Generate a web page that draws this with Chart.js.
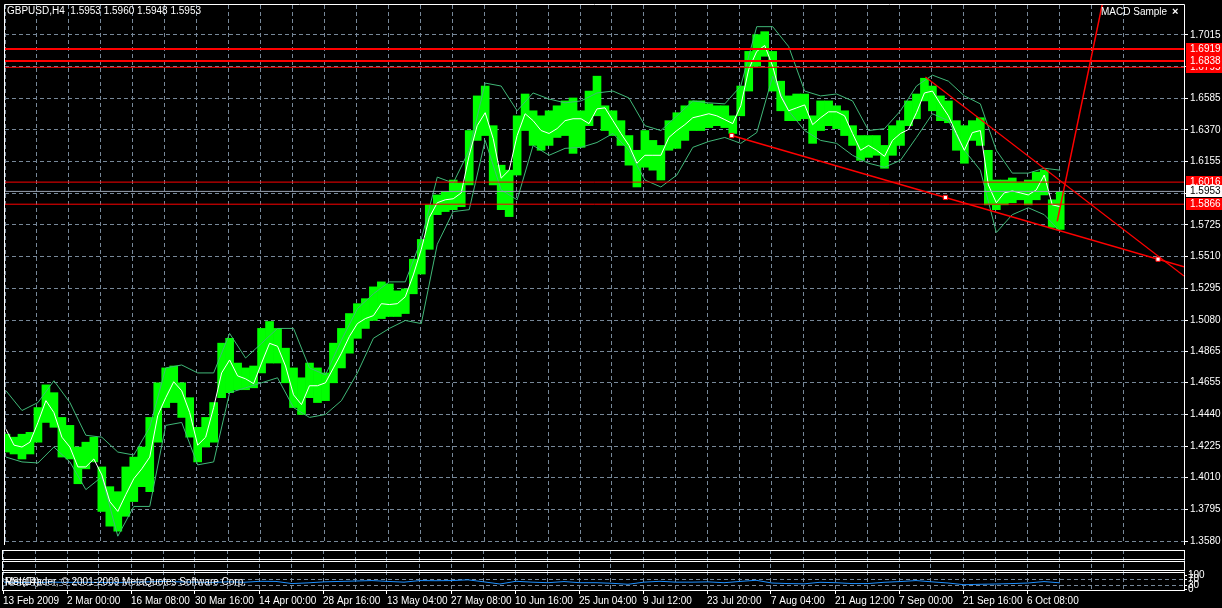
<!DOCTYPE html>
<html>
<head>
<meta charset="utf-8">
<script src="https://cdn.jsdelivr.net/npm/chart.js@4.4.1/dist/chart.umd.min.js"></script>
<style>
html, body { margin: 0; padding: 0; background: #000; }
#wrap { position: relative; width: 1222px; height: 608px; overflow: hidden; background: #000; }
canvas { position: absolute; left: 0; }
#mainChart { top: 0; }
#subChart { top: 549px; }
</style>
</head>
<body>
<div id="wrap">
<canvas id="mainChart" width="1222" height="549"></canvas>
<canvas id="subChart" width="1222" height="59"></canvas>
</div>
<script>
// GBPUSD H4 - bars grouped every 8 time units, bands / RSI every 16
const barStep = 8;
const bandStep = 16;

const barHigh = [
  1.4305, 1.4285, 1.4305, 1.4318, 1.4486, 1.4640, 1.4587, 1.4419, 1.4365, 1.4218,
  1.4251, 1.4285, 1.4083, 1.3949, 1.3915, 1.4083, 1.4150, 1.4218, 1.4419, 1.4654,
  1.4755, 1.4768, 1.4654, 1.4553, 1.4352, 1.4419, 1.4520, 1.4923, 1.4956, 1.4788,
  1.4755, 1.4768, 1.5023, 1.5070, 1.5023, 1.4889, 1.4755, 1.4688, 1.4788, 1.4755,
  1.4721, 1.4923, 1.5023, 1.5124, 1.5191, 1.5225, 1.5305, 1.5339, 1.5325, 1.5278,
  1.5292, 1.5493, 1.5627, 1.5862, 1.5929, 1.5950, 1.6030, 1.6010, 1.6366, 1.6601,
  1.6668, 1.6399, 1.6131, 1.6097, 1.6466, 1.6614, 1.6500, 1.6466, 1.6500, 1.6534,
  1.6567, 1.6587, 1.6500, 1.6634, 1.6735, 1.6534, 1.6500, 1.6433, 1.6332, 1.6232,
  1.6366, 1.6299, 1.6265, 1.6433, 1.6487, 1.6534, 1.6567, 1.6567, 1.6547, 1.6534,
  1.6534, 1.6466, 1.6668, 1.6903, 1.7017, 1.7037, 1.6903, 1.6701, 1.6601, 1.6614,
  1.6614, 1.6466, 1.6567, 1.6567, 1.6534, 1.6500, 1.6399, 1.6332, 1.6332, 1.6332,
  1.6265, 1.6399, 1.6433, 1.6567, 1.6614, 1.6721, 1.6668, 1.6601, 1.6567, 1.6433,
  1.6399, 1.6433, 1.6453, 1.6232, 1.6030, 1.6030, 1.6044, 1.6017, 1.6030, 1.6084,
  1.6097, 1.5896, 1.5950
];
const barLow = [
  1.4184, 1.4171, 1.4137, 1.4171, 1.4251, 1.4385, 1.4352, 1.4150, 1.4137, 1.3969,
  1.4070, 1.4117, 1.3781, 1.3681, 1.3647, 1.3748, 1.3848, 1.3949, 1.3915, 1.4251,
  1.4486, 1.4520, 1.4419, 1.4285, 1.4117, 1.4218, 1.4251, 1.4553, 1.4587, 1.4607,
  1.4607, 1.4620, 1.4721, 1.4788, 1.4788, 1.4654, 1.4486, 1.4439, 1.4553, 1.4520,
  1.4533, 1.4654, 1.4755, 1.4855, 1.4956, 1.5023, 1.5077, 1.5090, 1.5104, 1.5104,
  1.5124, 1.5258, 1.5392, 1.5560, 1.5795, 1.5816, 1.5829, 1.5849, 1.5997, 1.6299,
  1.6332, 1.5997, 1.5829, 1.5782, 1.6064, 1.6366, 1.6265, 1.6232, 1.6265, 1.6319,
  1.6332, 1.6211, 1.6252, 1.6399, 1.6466, 1.6366, 1.6332, 1.6265, 1.6131, 1.5983,
  1.6117, 1.6097, 1.6030, 1.6232, 1.6245, 1.6299, 1.6366, 1.6366, 1.6386, 1.6399,
  1.6386, 1.6346, 1.6466, 1.6634, 1.6802, 1.6870, 1.6634, 1.6500, 1.6433, 1.6433,
  1.6446, 1.6279, 1.6366, 1.6399, 1.6379, 1.6332, 1.6265, 1.6164, 1.6184, 1.6198,
  1.6110, 1.6198, 1.6265, 1.6399, 1.6446, 1.6567, 1.6500, 1.6433, 1.6419, 1.6232,
  1.6144, 1.6299, 1.6265, 1.5862, 1.5829, 1.5862, 1.5876, 1.5896, 1.5862, 1.5896,
  1.5929, 1.5708, 1.5695
];
const maLine = [
  1.4339, 1.4231, 1.4218, 1.4251, 1.4385, 1.4533, 1.4452, 1.4285, 1.4218, 1.4083,
  1.4083, 1.4137, 1.4029, 1.3848, 1.3781, 1.3895, 1.4003, 1.4070, 1.4150, 1.4432,
  1.4553, 1.4661, 1.4600, 1.4452, 1.4231, 1.4285, 1.4486, 1.4721, 1.4809, 1.4701,
  1.4681, 1.4648, 1.4788, 1.4922, 1.4902, 1.4768, 1.4573, 1.4506, 1.4634, 1.4634,
  1.4654, 1.4755, 1.4855, 1.4969, 1.5056, 1.5090, 1.5110, 1.5191, 1.5185, 1.5191,
  1.5238, 1.5386, 1.5560, 1.5775, 1.5876, 1.5896, 1.5903, 1.5943, 1.6198, 1.6399,
  1.6487, 1.6312, 1.6043, 1.6097, 1.6332, 1.6480, 1.6433, 1.6366, 1.6346, 1.6379,
  1.6433, 1.6446, 1.6446, 1.6413, 1.6513, 1.6520, 1.6433, 1.6346, 1.6265, 1.6144,
  1.6198, 1.6198, 1.6198, 1.6319, 1.6366, 1.6406, 1.6453, 1.6466, 1.6480, 1.6466,
  1.6440, 1.6413, 1.6534, 1.6782, 1.6903, 1.6943, 1.6802, 1.6601, 1.6500, 1.6520,
  1.6540, 1.6406, 1.6453, 1.6493, 1.6493, 1.6466, 1.6346, 1.6232, 1.6265, 1.6232,
  1.6191, 1.6299, 1.6346, 1.6373, 1.6487, 1.6621, 1.6634, 1.6547, 1.6466, 1.6346,
  1.6232, 1.6352, 1.6366, 1.5997, 1.5876, 1.5943, 1.5956, 1.5943, 1.5929, 1.5963,
  1.6064, 1.5862, 1.5849
];
const bandUpper = [
  1.4600, 1.4466, 1.4520, 1.4668, 1.4520, 1.4298, 1.4285, 1.4184, 1.4164, 1.4352,
  1.4755, 1.4775, 1.4721, 1.4721, 1.4989, 1.4822, 1.4922, 1.5023, 1.5023, 1.4755,
  1.4708, 1.4943, 1.5157, 1.5258, 1.5339, 1.5339, 1.5627, 1.6050, 1.6010, 1.6232,
  1.6688, 1.6668, 1.6500, 1.6621, 1.6580, 1.6554, 1.6567, 1.6621, 1.6634, 1.6587,
  1.6399, 1.6366, 1.6466, 1.6567, 1.6554, 1.6547, 1.6668, 1.7071, 1.7071, 1.6936,
  1.6634, 1.6601, 1.6614, 1.6567, 1.6366, 1.6379, 1.6500, 1.6668, 1.6742, 1.6701,
  1.6601, 1.6547, 1.6232, 1.6077, 1.6077, 1.6110, 1.6097
];
const bandLower = [
  1.4150, 1.4117, 1.4110, 1.4218, 1.4117, 1.3929, 1.4016, 1.3613, 1.3815, 1.3815,
  1.4365, 1.4385, 1.4097, 1.4117, 1.4587, 1.4620, 1.4654, 1.4688, 1.4486, 1.4419,
  1.4439, 1.4533, 1.4721, 1.4956, 1.5023, 1.5077, 1.5056, 1.5594, 1.5816, 1.5829,
  1.6299, 1.5963, 1.5896, 1.6265, 1.6198, 1.6245, 1.6252, 1.6285, 1.6346, 1.6232,
  1.6030, 1.5983, 1.6064, 1.6252, 1.6292, 1.6319, 1.6279, 1.6352, 1.6735, 1.6500,
  1.6366, 1.6299, 1.6279, 1.6198, 1.6144, 1.6117, 1.6164, 1.6319, 1.6480, 1.6433,
  1.6232, 1.6097, 1.5674, 1.5795, 1.5842, 1.5795, 1.5681
];
const rsiValues = [
  50, 48, 47, 50, 48, 49, 48, 46, 50, 52,
  55, 52, 50, 48, 52, 49, 56, 55, 40, 45,
  52, 55, 58, 61, 55, 50, 61, 60, 61, 66,
  52, 37, 56, 50, 46, 54, 46, 46, 42, 35,
  50, 56, 50, 50, 52, 46, 55, 63, 44, 40,
  38, 49, 46, 40, 40, 49, 54, 61, 52, 44,
  32, 35, 37, 40, 44, 54, 45
];

const dateLabels = ['13 Feb 2009', '2 Mar 00:00', '16 Mar 08:00', '30 Mar 16:00', '14 Apr 00:00',
  '28 Apr 16:00', '13 May 04:00', '27 May 08:00', '10 Jun 16:00', '25 Jun 04:00', '9 Jul 12:00',
  '23 Jul 20:00', '7 Aug 04:00', '21 Aug 12:00', '7 Sep 00:00', '21 Sep 16:00', '6 Oct 08:00'];
const priceTicks = [1.7015, 1.6800, 1.6585, 1.6370, 1.6155, 1.5940, 1.5725, 1.5510, 1.5295,
  1.5080, 1.4865, 1.4655, 1.4440, 1.4225, 1.4010, 1.3795, 1.3580];
const rsiTicks = [0, 30, 70, 100];

const levelsBold = [1.6919, 1.6838];
const levelsThin = [1.6795, 1.6016, 1.5866];
const bidPrice = 1.5953;
const quote = [1.5953, 1.5960, 1.5948, 1.5953];

const trendLower = [[728, 1.6332], [1181, 1.5442]];
const trendUpper = [[922, 1.6729], [1181, 1.5379]];
const trendBreak = [[1054, 1.5749], [1109, 1.7545]];
const trendAnchors = [[728, 1.6332], [942, 1.5912], [1155, 1.5493]];

const xMax = 1181;
const gridColor = '#778899';
const fontFamily = '"Liberation Sans", Arial, sans-serif';
Chart.defaults.font.family = fontFamily;
Chart.defaults.font.size = 10;
Chart.defaults.color = '#ffffff';

const toPts = (arr, step) => arr.map((v, i) => ({ x: 1 + step * i, y: v }));
const pairPts = arr => arr.map(p => ({ x: p[0], y: p[1] }));
const flat = lvl => [{ x: 0, y: lvl }, { x: xMax, y: lvl }];
const sizeFix = (w, h) => s => {
  if (w !== null) s.width = w;
  if (h !== null) s.height = h;
  s.paddingTop = 0; s.paddingBottom = 0; s.paddingLeft = 0; s.paddingRight = 0;
};
const lineSet = (data, color, width, extra) => Object.assign({
  type: 'line', data: data, borderColor: color, borderWidth: width,
  pointRadius: 0, tension: 0, fill: false
}, extra || {});

const mainDecor = {
  id: 'mainDecor',
  afterDraw(chart) {
    const { ctx, chartArea: a, scales: { y } } = chart;
    ctx.save();
    ctx.strokeStyle = '#ffffff';
    ctx.lineWidth = 1;
    ctx.beginPath();
    ctx.moveTo(a.left - 0.5, a.bottom + 1);
    ctx.lineTo(a.left - 0.5, a.top - 0.5);
    ctx.lineTo(a.right + 0.5, a.top - 0.5);
    ctx.lineTo(a.right + 0.5, a.bottom + 1);
    ctx.stroke();

    ctx.font = '10px ' + fontFamily;
    ctx.textBaseline = 'middle';
    ctx.textAlign = 'left';
    const box = (price, fill, color) => {
      const py = Math.round(y.getPixelForValue(price));
      ctx.fillStyle = fill;
      ctx.fillRect(a.right + 2, py - 6, 36, 12);
      ctx.fillStyle = color;
      ctx.fillText(price.toFixed(4), a.right + 6, py);
    };
    levelsThin.forEach(l => box(l, '#ff0000', '#ffffff'));
    levelsBold.forEach(l => box(l, '#ff0000', '#ffffff'));
    box(bidPrice, '#ffffff', '#000000');

    ctx.fillStyle = '#ffffff';
    ctx.fillText('GBPUSD,H4  ' + quote.map(q => q.toFixed(4)).join(' '), 7, 11);
    ctx.fillText('MACD Sample', 1101, 12);
    ctx.font = 'bold 11px ' + fontFamily;
    ctx.fillText('\u00d7', 1172, 12);
    ctx.restore();
  }
};

new Chart(document.getElementById('mainChart'), {
  type: 'bar',
  data: {
    datasets: [
      lineSet(pairPts(trendAnchors), '#ff0000', 1, {
        showLine: false, pointRadius: 3, pointStyle: 'rect',
        pointBackgroundColor: '#ffffff', pointBorderColor: '#ff0000', pointBorderWidth: 1
      }),
      lineSet(pairPts(trendLower), '#ff0000', 1.5),
      lineSet(pairPts(trendUpper), '#ff0000', 1.2),
      lineSet(pairPts(trendBreak), '#ff0000', 1.5),
      ...levelsBold.map(l => lineSet(flat(l), '#ff0000', 2)),
      ...levelsThin.map(l => lineSet(flat(l), '#ff0000', 1)),
      lineSet(flat(bidPrice), '#9aa4b4', 1),
      lineSet(toPts(maLine, barStep), '#ffffff', 1),
      lineSet(toPts(bandUpper, bandStep), '#40b878', 1),
      lineSet(toPts(bandLower, bandStep), '#40b878', 1),
      {
        type: 'bar',
        data: barHigh.map((h, i) => ({ x: 1 + barStep * i, y: [barLow[i], h] })),
        backgroundColor: '#00ff00',
        borderWidth: 0,
        barThickness: 8
      }
    ]
  },
  options: {
    responsive: false,
    animation: false,
    events: [],
    layout: { padding: { left: 3, top: 3, right: 0, bottom: 1 } },
    plugins: { legend: { display: false }, tooltip: { enabled: false } },
    scales: {
      x: {
        type: 'linear', min: 0, max: xMax, offset: false,
        ticks: { display: false, stepSize: 32 },
        grid: { color: gridColor, drawTicks: false, offset: false },
        border: { display: false, dash: [4, 3] },
        afterFit: sizeFix(null, 0)
      },
      y: {
        position: 'right', min: 1.3560, max: 1.7218,
        afterBuildTicks: s => { s.ticks = priceTicks.map(v => ({ value: v })); },
        ticks: { callback: v => v.toFixed(4), padding: 2, autoSkip: false, color: '#ffffff' },
        grid: { color: gridColor, tickColor: '#ffffff', tickLength: 4 },
        border: { display: false, dash: [4, 3] },
        afterFit: sizeFix(38, null)
      }
    }
  },
  plugins: [mainDecor]
});

const subDecor = {
  id: 'subDecor',
  afterDraw(chart) {
    const { ctx, chartArea: a, scales } = chart;
    ctx.save();
    ctx.strokeStyle = '#ffffff';
    ctx.lineWidth = 1;
    ['w1', 'w2', 'rsi'].forEach((id, i) => {
      const s = scales[id];
      const top = s.top + (i === 0 ? 0.5 : 1.5);
      ctx.strokeRect(a.left - 0.5, top, a.right - a.left + 1, s.bottom - 0.5 - top);
    });
    ctx.fillStyle = '#ffffff';
    ctx.font = '10px ' + fontFamily;
    ctx.textBaseline = 'middle';
    ctx.fillText('MetaTrader, \u00a9 2001-2009 MetaQuotes Software Corp.', 5, scales.rsi.top + 11);
    ctx.fillText('RSI(14)', 5, scales.rsi.top + 11);
    ctx.restore();
  }
};

const emptyPane = weight => ({
  position: 'right', stack: 'sub', stackWeight: weight,
  ticks: { display: false }, grid: { display: false }, border: { display: false },
  afterFit: sizeFix(38, null)
});

new Chart(document.getElementById('subChart'), {
  type: 'line',
  data: {
    datasets: [
      lineSet(toPts(rsiValues, bandStep), '#1e90ff', 1, { yAxisID: 'rsi' })
    ]
  },
  options: {
    responsive: false,
    animation: false,
    events: [],
    layout: { padding: { left: 3, top: 1, right: 0, bottom: 0 } },
    plugins: { legend: { display: false }, tooltip: { enabled: false } },
    scales: {
      x: {
        type: 'linear', min: 0, max: xMax, position: 'bottom', offset: false,
        ticks: {
          stepSize: 32, autoSkip: false, maxRotation: 0, align: 'start', padding: 1,
          callback: (v, i) => (i % 2 === 0 && dateLabels[i / 2]) ? dateLabels[i / 2] : ''
        },
        grid: {
          color: gridColor, tickLength: 3, offset: false,
          tickColor: c => (c.index % 2 === 0 && c.index / 2 < dateLabels.length) ? '#ffffff' : 'rgba(0,0,0,0)'
        },
        border: { display: false, dash: [4, 3] },
        afterFit: sizeFix(null, 17)
      },
      w1: emptyPane(10),
      w2: emptyPane(11),
      rsi: {
        position: 'right', stack: 'sub', stackWeight: 20, min: -12, max: 128,
        afterBuildTicks: s => { s.ticks = rsiTicks.map(v => ({ value: v })); },
        ticks: { autoSkip: false, padding: 1 },
        grid: {
          color: c => (c.tick && (c.tick.value === 30 || c.tick.value === 70)) ? gridColor : 'rgba(0,0,0,0)',
          tickColor: '#ffffff', tickLength: 3
        },
        border: { display: false, dash: [4, 3] },
        afterFit: sizeFix(38, null)
      }
    }
  },
  plugins: [subDecor]
});
</script>
</body>
</html>
